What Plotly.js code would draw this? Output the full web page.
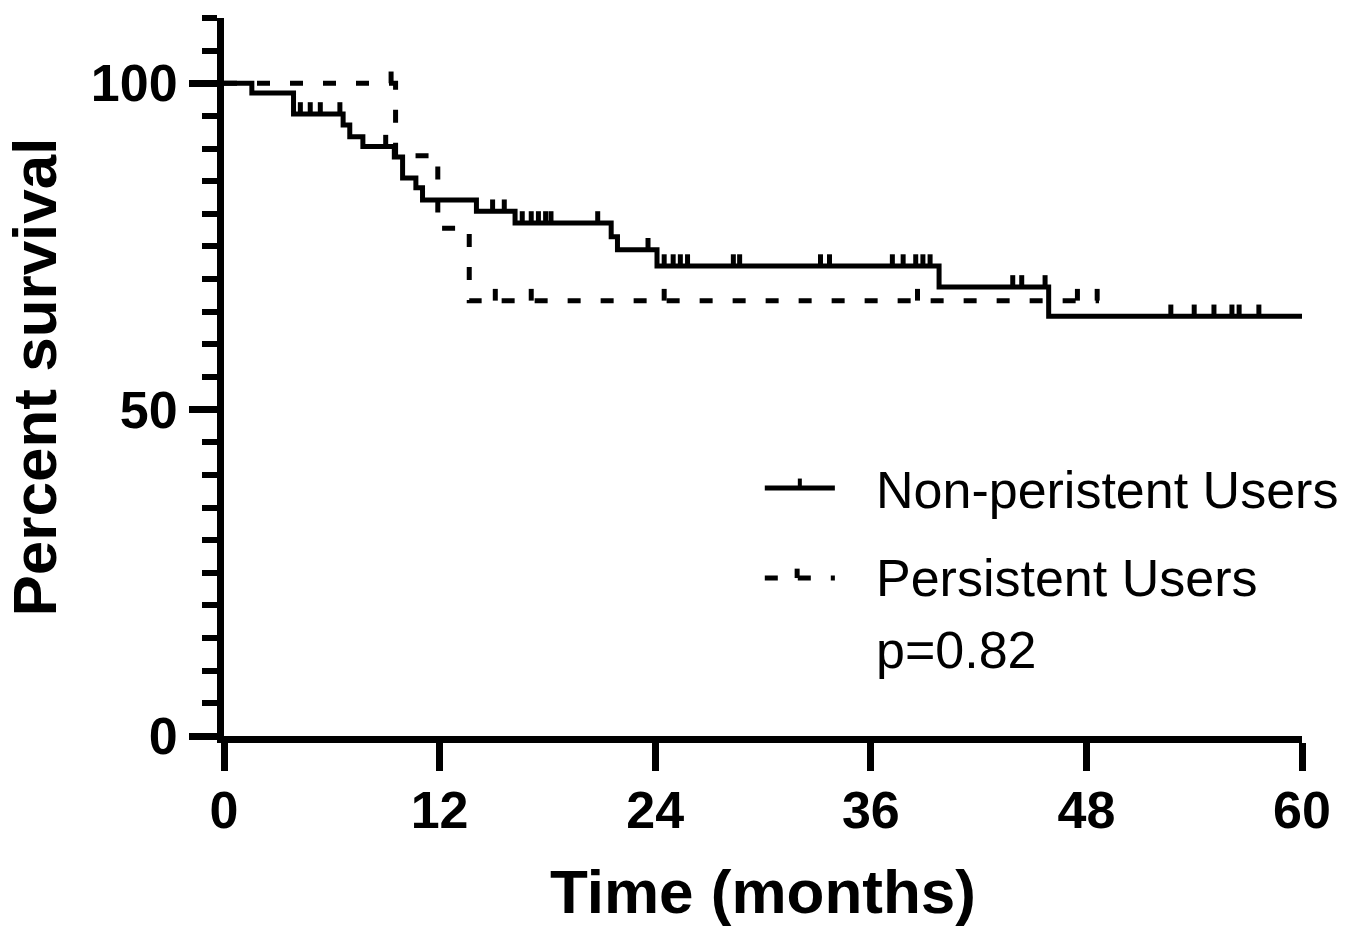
<!DOCTYPE html>
<html>
<head>
<meta charset="utf-8">
<script src="https://cdn.plot.ly/plotly-3.0.1.min.js"></script>
<style>html,body{margin:0;padding:0;background:#fff;}#chart{width:1365px;height:938px;}</style>
</head>
<body>
<div id="chart"></div>
<script>
// ---- Data ----
const nonTime   = [0, 1.55, 3.87, 6.63, 7.0, 7.73, 9.48, 9.94, 10.68, 11.05, 14.05, 16.2, 21.55, 21.9, 24.1, 39.8, 45.9, 60];
const nonSurv   = [100, 98.5, 95.3, 93.6, 91.8, 90.3, 88.7, 85.5, 84.0, 82.1, 80.4, 78.6, 76.5, 74.5, 72.0, 68.8, 64.3, 64.3];
const nonCensor = [4.25, 4.8, 5.36, 6.45, 9.0, 14.95, 15.6, 16.6, 17.1, 17.5, 17.9, 18.2, 20.8, 23.6, 24.5, 25.0, 25.4, 25.8,
                   28.35, 28.7, 33.2, 33.7, 37.2, 37.8, 38.5, 38.9, 39.3, 43.9, 44.4, 45.7, 52.7, 54.0, 55.1, 56.1, 56.5, 57.6];

const perTime   = [0, 9.55, 11.9, 13.65, 48.7];
const perSurv   = [100, 88.9, 77.8, 66.7, 66.7];
const perCensor = [9.3, 15.1, 17.1, 24.5, 38.6, 47.5, 48.6];

const seriesNames = ["Non-peristent Users", "Persistent Users"];
const pText = "p=0.82";
const xTicks = [0, 12, 24, 36, 48, 60];
const yTicks = [0, 50, 100];

// ---- helpers ----
function survAt(times, surv, t) {
  let v = surv[0];
  for (let i = 0; i < times.length; i++) { if (times[i] <= t) v = surv[i]; }
  return v;
}
const TICK_H = 1.8; // censor tick height in percent units
function censorSegments(times, surv, cens) {
  const xs = [], ys = [];
  cens.forEach(t => { const s = survAt(times, surv, t); xs.push(t, t, null); ys.push(s, s + TICK_H, null); });
  return {x: xs, y: ys};
}

const FONT = "Liberation Sans, Arial, Helvetica, sans-serif";
const LW = 5;

const nonC = censorSegments(nonTime, nonSurv, nonCensor);
const perC = censorSegments(perTime, perSurv, perCensor);

const traces = [
  {x: nonTime, y: nonSurv, mode: 'lines', line: {shape: 'hv', color: '#000', width: LW}, name: seriesNames[0], hoverinfo: 'skip'},
  {x: nonC.x, y: nonC.y, mode: 'lines', line: {color: '#000', width: LW}, showlegend: false, hoverinfo: 'skip'},
  {x: perTime, y: perSurv, mode: 'lines', line: {shape: 'hv', color: '#000', width: LW, dash: '13px,20px'}, name: seriesNames[1], hoverinfo: 'skip'},
  {x: perC.x, y: perC.y, mode: 'lines', line: {color: '#000', width: LW}, showlegend: false, hoverinfo: 'skip'}
];

const layout = {
  width: 1365, height: 938,
  margin: {l: 224, r: 63, t: 18, b: 202},
  paper_bgcolor: '#fff', plot_bgcolor: '#fff',
  showlegend: false,
  font: {family: FONT, color: '#000'},
  xaxis: {
    range: [0, 60], tickvals: xTicks, ticktext: xTicks.map(String),
    showgrid: false, zeroline: false, showline: true, linecolor: '#000', linewidth: 7,
    ticks: 'outside', ticklen: 28, tickwidth: 7, tickcolor: '#000',
    tickfont: {family: FONT, size: 52, weight: 'bold'}, ticklabelstandoff: -5,
    title: {text: 'Time (months)', font: {family: FONT, size: 62, weight: 'bold'}, standoff: 34},
    fixedrange: true
  },
  yaxis: {
    range: [0, 110], tickvals: yTicks, ticktext: yTicks.map(String),
    showgrid: false, zeroline: false, showline: true, linecolor: '#000', linewidth: 7,
    ticks: 'outside', ticklen: 28, tickwidth: 7, tickcolor: '#000',
    minor: {dtick: 5, tick0: 0, ticks: 'outside', ticklen: 15, tickwidth: 6, tickcolor: '#000', showgrid: false},
    tickfont: {family: FONT, size: 52, weight: 'bold'}, ticklabelstandoff: 1,
    title: {text: 'Percent survival', font: {family: FONT, size: 62, weight: 'bold'}, standoff: 26},
    fixedrange: true
  },
  shapes: [
    // legend sample: solid line with censor tick
    {type: 'line', xref: 'x', yref: 'y', x0: 30.1, x1: 34.0, y0: 38.0, y1: 38.0, line: {color: '#000', width: LW}},
    {type: 'line', xref: 'x', yref: 'y', x0: 32.05, x1: 32.05, y0: 38.0, y1: 38.0 + TICK_H * 0.8, line: {color: '#000', width: LW * 0.8}},
    // legend sample: dashed line with censor tick
    {type: 'line', xref: 'x', yref: 'y', x0: 30.1, x1: 34.0, y0: 24.2, y1: 24.2, line: {color: '#000', width: LW, dash: '13px,20px'}},
    {type: 'line', xref: 'x', yref: 'y', x0: 31.9, x1: 31.9, y0: 24.2, y1: 24.2 + TICK_H * 0.8, line: {color: '#000', width: LW}}
  ],
  annotations: [
    {xref: 'x', yref: 'y', x: 36.2, y: 37.7, xanchor: 'left', yanchor: 'middle', showarrow: false,
     text: seriesNames[0], font: {family: FONT, size: 52, color: '#000'}},
    {xref: 'x', yref: 'y', x: 36.2, y: 24.2, xanchor: 'left', yanchor: 'middle', showarrow: false,
     text: seriesNames[1], font: {family: FONT, size: 52, color: '#000'}},
    {xref: 'x', yref: 'y', x: 36.2, y: 13.2, xanchor: 'left', yanchor: 'middle', showarrow: false,
     text: pText, font: {family: FONT, size: 52, color: '#000'}}
  ]
};

Plotly.newPlot('chart', traces, layout, {displayModeBar: false, staticPlot: true});
</script>
</body>
</html>
